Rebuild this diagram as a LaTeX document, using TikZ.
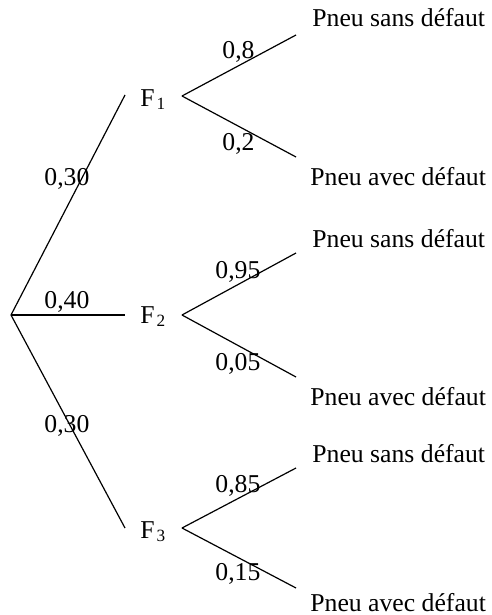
\documentclass[tikz,border=0pt]{standalone}
\usepackage{fontspec}
\setmainfont{Liberation Serif}
\newcommand{\lotname}[1]{F\kern1pt\raisebox{-1.6pt}{\fontsize{8.6}{10}\selectfont #1}}
\begin{document}
\begin{tikzpicture}[x=0.5pt,y=-0.5pt,
  branch/.style={line width=0.6pt},
  lbl/.style={anchor=base west,inner sep=0pt,font=\fontsize{12.85}{15}\selectfont},
]
\useasboundingbox (0,0) rectangle (492,615);

% junction points of the tree
\coordinate (root) at (11,315);
\coordinate (f1in) at (125,95);
\coordinate (f2in) at (125,315);
\coordinate (f3in) at (125,528);
\coordinate (f1out) at (182,96);
\coordinate (f2out) at (182,315);
\coordinate (f3out) at (182,528);
\coordinate (s1) at (296,35);
\coordinate (d1) at (296,157);
\coordinate (s2) at (296,253);
\coordinate (d2) at (296,377);
\coordinate (s3) at (296,468);
\coordinate (d3) at (296,588);

% first level
\draw[branch] (root) -- (f1in);
\draw[line width=1pt] (root) -- (f2in);
\draw[branch] (root) -- (f3in);

% second level
\draw[branch] (f1out) -- (s1);
\draw[branch] (f1out) -- (d1);
\draw[branch] (f2out) -- (s2);
\draw[branch] (f2out) -- (d2);
\draw[branch] (f3out) -- (s3);
\draw[branch] (f3out) -- (d3);

% lots
\node[lbl] (F1) at (140,106) {\lotname{1}};
\node[lbl] (F2) at (140,323) {\lotname{2}};
\node[lbl] (F3) at (140,538) {\lotname{3}};

% first-level probabilities
\node[lbl] (p1) at (44,185) {0,30};
\node[lbl] (p2) at (44,308) {0,40};
\node[lbl] (p3) at (44,432) {0,30};

% second-level probabilities
\node[lbl] (q1) at (222,59) {0,8};
\node[lbl] (r1) at (222,150) {0,2};
\node[lbl] (q2) at (215,278) {0,95};
\node[lbl] (r2) at (215,370) {0,05};
\node[lbl] (q3) at (215,492) {0,85};
\node[lbl] (r3) at (215,580) {0,15};

% outcomes
\node[lbl] (o1) at (312,27) {Pneu sans défaut};
\node[lbl] (o2) at (310,185) {Pneu avec défaut};
\node[lbl] (o3) at (312,247) {Pneu sans défaut};
\node[lbl] (o4) at (310,405) {Pneu avec défaut};
\node[lbl] (o5) at (312,462) {Pneu sans défaut};
\node[lbl] (o6) at (310,611) {Pneu avec défaut};
\end{tikzpicture}
\end{document}
